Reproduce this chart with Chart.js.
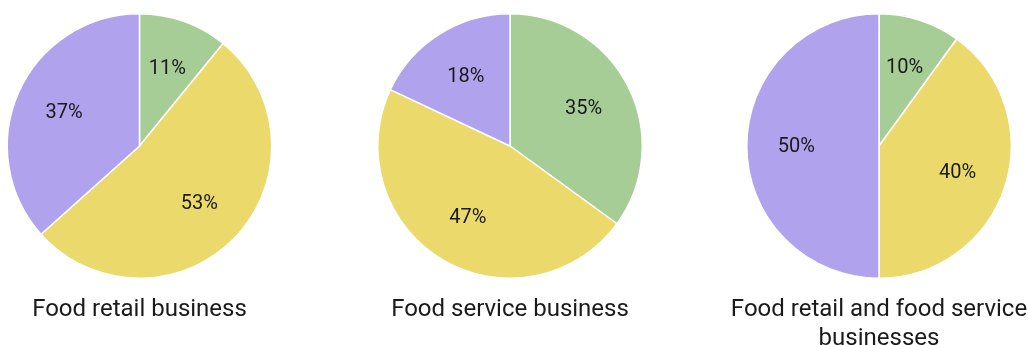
<!DOCTYPE html>
<html>
<head>
<meta charset="utf-8">
<script src="https://cdn.jsdelivr.net/npm/chart.js@4/dist/chart.umd.min.js"></script>
<style>
  html, body { margin: 0; padding: 0; background: #fff; overflow: hidden; width: 1028px; height: 345px; }
  canvas { position: absolute; top: 0; }
</style>
</head>
<body>
<canvas id="c1" width="279" height="360" style="left:0px"></canvas>
<canvas id="c2" width="300" height="360" style="left:359.5px"></canvas>
<canvas id="c3" width="300" height="360" style="left:729px"></canvas>
<script>
const categories = ['Category A', 'Category B', 'Category C'];
const foodRetail = [11, 53, 37];
const foodService = [35, 47, 18];
const foodBoth = [10, 40, 50];
const titles = [['Food retail business'], ['Food service business'], ['Food retail and food service', 'businesses']];
const colors = ['#a6cd95', '#ebda6b', '#b0a2ec'];

const labelPlugin = {
  id: 'sliceLabels',
  afterDatasetsDraw(chart) {
    const ctx = chart.ctx;
    const meta = chart.getDatasetMeta(0);
    const data = chart.data.datasets[0].data;
    ctx.save();
    ctx.font = '20px Roboto';
    ctx.fillStyle = '#1a1a1a';
    ctx.textAlign = 'center';
    ctx.textBaseline = 'middle';
    meta.data.forEach((arc, i) => {
      const p = arc.getProps(['x', 'y', 'startAngle', 'endAngle', 'outerRadius'], true);
      const mid = (p.startAngle + p.endAngle) / 2;
      const r = p.outerRadius * 0.625;
      ctx.fillText(data[i] + '%', p.x + Math.cos(mid) * r, p.y + Math.sin(mid) * r + 1);
    });
    ctx.restore();
  }
};

function makePie(id, values, title) {
  new Chart(document.getElementById(id), {
    type: 'pie',
    data: {
      labels: categories,
      datasets: [{ data: values, backgroundColor: colors, borderColor: '#ffffff', borderWidth: 1.5 }]
    },
    options: {
      responsive: false,
      animation: false,
      layout: { padding: { top: 13, bottom: title.length > 1 ? 6.5 : 35.5, left: 0, right: 0 } },
      plugins: {
        legend: { display: false },
        tooltip: { enabled: false },
        title: {
          display: true,
          position: 'bottom',
          text: title,
          color: '#1a1a1a',
          font: { family: 'Roboto', size: 24, weight: 'normal', lineHeight: '29px' },
          padding: { top: 16.5, bottom: 0 }
        }
      }
    },
    plugins: [labelPlugin]
  });
}

makePie('c1', foodRetail, titles[0]);
makePie('c2', foodService, titles[1]);
makePie('c3', foodBoth, titles[2]);
</script>
</body>
</html>
